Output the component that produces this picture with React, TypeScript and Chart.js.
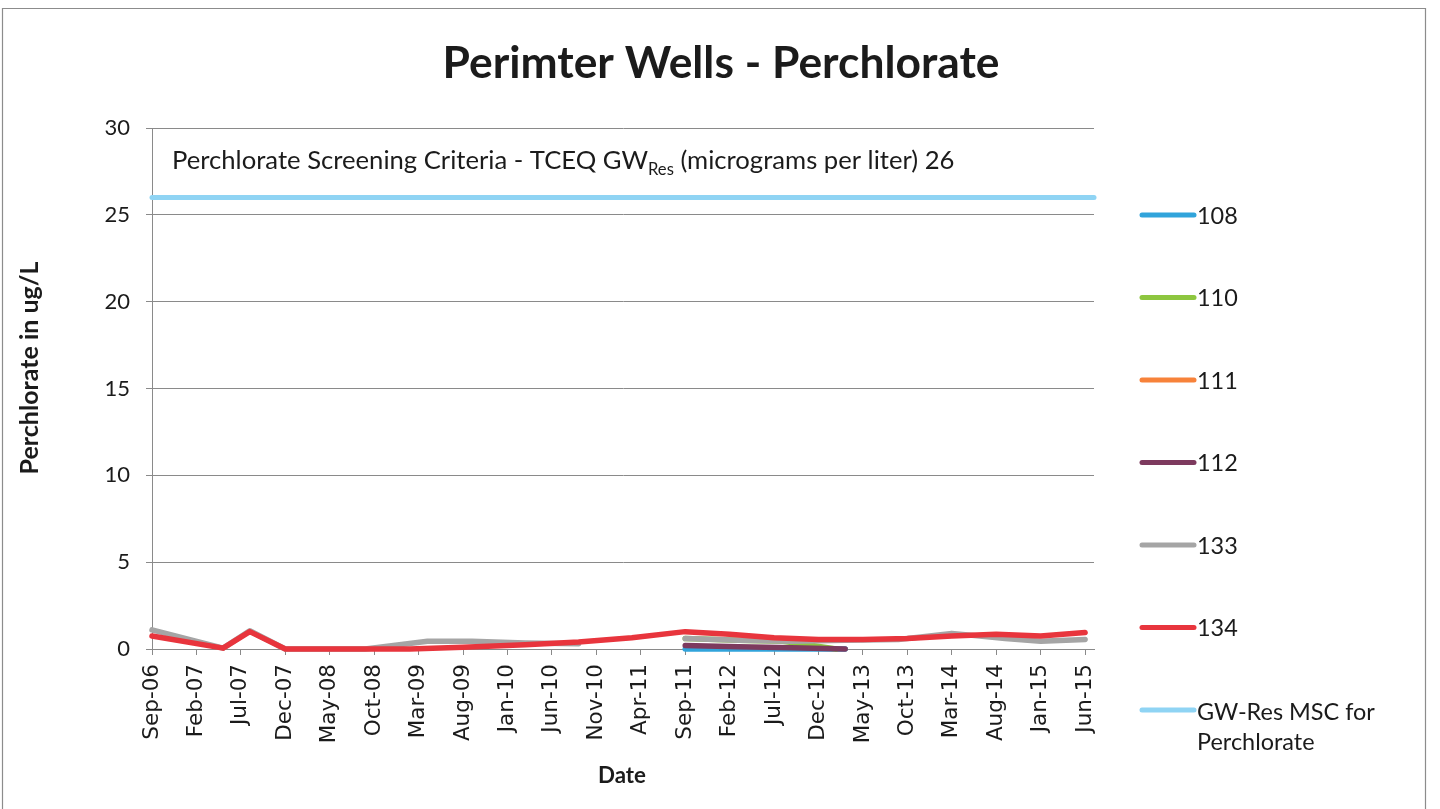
import React, { useEffect, useRef } from "react";
import { Chart, registerables } from "chart.js";

Chart.register(...registerables);

// ---------- text ----------
const CHART_TITLE = "Perimter Wells - Perchlorate";
const Y_TITLE = "Perchlorate in ug/L";
const X_TITLE = "Date";
const NOTE_MAIN = "Perchlorate Screening Criteria - TCEQ GW";
const NOTE_SUB = "Res";
const NOTE_TAIL = " (micrograms per liter) 26";

// ---------- axes ----------
// x values are months counted from Sep-06
const TICK_LABELS = [
  "Sep-06", "Feb-07", "Jul-07", "Dec-07", "May-08", "Oct-08", "Mar-09", "Aug-09",
  "Jan-10", "Jun-10", "Nov-10", "Apr-11", "Sep-11", "Feb-12", "Jul-12", "Dec-12",
  "May-13", "Oct-13", "Mar-14", "Aug-14", "Jan-15", "Jun-15",
];
const X_TICK_STEP = 5;
const X_MIN = 0;
const X_MAX = 106;
const Y_MIN = 0;
const Y_MAX = 30;
const Y_STEP = 5;

// ---------- series ----------
const W108_MONTHS = [60, 66, 72, 78];
const W108_VALUES = [0, 0, 0, 0];

const W110_MONTHS = [60, 66, 71, 77];
const W110_VALUES = [0.6, 0.5, 0.45, 0];

const W111_MONTHS: number[] = [];
const W111_VALUES: number[] = [];

const W112_MONTHS = [60, 66, 72, 78];
const W112_VALUES = [0.2, 0.13, 0.07, 0];

const W133_MONTHS = [0, 8, 11, 15, 24, 31, 36, 42, 48, 54, 60, 66, 72, 78, 84, 90, 96, 100, 105];
const W133_VALUES = [1.1, 0.05, 1.05, 0, 0, 0.45, 0.45, 0.35, 0.3, null, 0.6, 0.5, 0.45, 0.5, 0.55, 0.9, 0.6, 0.45, 0.55];

const W134_MONTHS = [0, 8, 11, 15, 22, 29, 35, 42, 48, 54, 60, 65, 70, 75, 80, 85, 90, 95, 100, 105];
const W134_VALUES = [0.75, 0.05, 1.0, 0, 0, 0, 0.1, 0.25, 0.4, 0.65, 1.0, 0.85, 0.65, 0.55, 0.55, 0.6, 0.75, 0.85, 0.75, 0.95];

const GW_RES_MONTHS = [0, 106];
const GW_RES_VALUES = [26, 26];

const SERIES_LABELS = ["108", "110", "111", "112", "133", "134", "GW-Res MSC for Perchlorate"];
const SERIES_COLORS = ["#31A4DB", "#8DC63F", "#F7823A", "#7D3A5E", "#A5A5A5", "#E8353D", "#8FD4F4"];

// ---------- styling ----------
const GRID = "#8a8a8a";
const INK = "#1b1b1b";
const CAL = "Lato, 'Open Sans', sans-serif";

function makeSet(i: number, months: number[], values: (number | null)[], width: number) {
  return {
    label: SERIES_LABELS[i],
    data: months.map((m, k) => ({ x: m, y: values[k] })),
    borderColor: SERIES_COLORS[i],
    backgroundColor: SERIES_COLORS[i],
    borderWidth: width,
    pointRadius: 0,
    pointHoverRadius: 0,
    borderCapStyle: "round",
    borderJoinStyle: "round",
    tension: 0,
    spanGaps: false,
    clip: false,
    fill: false,
    order: 20 - i,
  };
}

function fitSize(ctx: CanvasRenderingContext2D, text: string, weight: string, family: string, target: number) {
  ctx.font = `${weight} 100px ${family}`;
  const w = ctx.measureText(text).width;
  return (100 * target) / w;
}

const decorPlugin = {
  id: "decor",
  beforeDraw(chart: any) {
    const ctx: CanvasRenderingContext2D = chart.ctx;
    ctx.save();
    ctx.fillStyle = "#ffffff";
    ctx.fillRect(0, 0, chart.width, chart.height);
    ctx.strokeStyle = "#8c8c8c";
    ctx.lineWidth = 1.2;
    ctx.beginPath();
    ctx.moveTo(2.5, chart.height);
    ctx.lineTo(2.5, 8.5);
    ctx.lineTo(1425.5, 8.5);
    ctx.lineTo(1425.5, chart.height);
    ctx.stroke();
    ctx.restore();
  },
  afterDraw(chart: any) {
    const ctx: CanvasRenderingContext2D = chart.ctx;
    ctx.save();
    ctx.fillStyle = INK;
    ctx.textBaseline = "alphabetic";

    // title
    const ts = fitSize(ctx, CHART_TITLE, "bold", CAL, 557);
    ctx.font = `bold ${ts}px ${CAL}`;
    ctx.textAlign = "center";
    ctx.fillText(CHART_TITLE, 721, 78);

    // note with subscript
    ctx.textAlign = "left";
    ctx.font = `100px ${CAL}`;
    const wm = ctx.measureText(NOTE_MAIN).width;
    const wt = ctx.measureText(NOTE_TAIL).width;
    const wsb = ctx.measureText(NOTE_SUB).width * 0.65;
    const ns = (100 * 783) / (wm + wt + wsb);
    let x = 172;
    const base = 169;
    ctx.font = `${ns}px ${CAL}`;
    ctx.fillText(NOTE_MAIN, x, base);
    x += ctx.measureText(NOTE_MAIN).width;
    ctx.font = `${ns * 0.65}px ${CAL}`;
    ctx.fillText(NOTE_SUB, x, base + ns * 0.22);
    x += ctx.measureText(NOTE_SUB).width;
    ctx.font = `${ns}px ${CAL}`;
    ctx.fillText(NOTE_TAIL, x, base);

    // y title
    const ys = fitSize(ctx, Y_TITLE, "bold", CAL, 213);
    ctx.save();
    ctx.translate(38, 368);
    ctx.rotate(-Math.PI / 2);
    ctx.font = `bold ${ys}px ${CAL}`;
    ctx.textAlign = "center";
    ctx.fillText(Y_TITLE, 0, 0);
    ctx.restore();

    // x title
    const xs = fitSize(ctx, X_TITLE, "bold", CAL, 48);
    ctx.font = `bold ${xs}px ${CAL}`;
    ctx.textAlign = "center";
    ctx.fillText(X_TITLE, 622, 783);

    // legend
    const ls = fitSize(ctx, "GW-Res MSC for", "normal", CAL, 178);
    ctx.font = `${ls}px ${CAL}`;
    ctx.textAlign = "left";
    ctx.textBaseline = "middle";
    const ds = chart.data.datasets;
    ds.forEach((d: any, i: number) => {
      const cy = 215 + i * 82.5;
      ctx.strokeStyle = d.borderColor;
      ctx.lineWidth = 5;
      ctx.lineCap = "round";
      ctx.beginPath();
      ctx.moveTo(1142, cy);
      ctx.lineTo(1194, cy);
      ctx.stroke();
      ctx.fillStyle = INK;
      if (i === ds.length - 1) {
        ctx.fillText("GW-Res MSC for", 1197, cy + 2);
        ctx.fillText("Perchlorate", 1197, cy + 32);
      } else {
        ctx.fillText(d.label, 1197, cy + 1);
      }
    });
    ctx.restore();
  },
};

export default function App() {
  const ref = useRef<HTMLCanvasElement | null>(null);

  useEffect(() => {
    document.body.style.margin = "0";
    const canvas = ref.current;
    if (!canvas) return;
    const datasets = [
      makeSet(0, W108_MONTHS, W108_VALUES, 5.5),
      makeSet(1, W110_MONTHS, W110_VALUES, 5.5),
      makeSet(2, W111_MONTHS, W111_VALUES, 5.5),
      makeSet(3, W112_MONTHS, W112_VALUES, 5.5),
      makeSet(4, W133_MONTHS, W133_VALUES, 5.5),
      makeSet(5, W134_MONTHS, W134_VALUES, 5.5),
      makeSet(6, GW_RES_MONTHS, GW_RES_VALUES, 5),
    ];
    const chart = new Chart(canvas, {
      type: "line",
      data: { datasets } as any,
      options: {
        responsive: false,
        animation: false,
        events: [],
        layout: { padding: { top: 128, right: 346, left: 0, bottom: 0 } },
        plugins: {
          legend: { display: false },
          title: { display: false },
          tooltip: { enabled: false },
        },
        scales: {
          x: {
            type: "linear",
            min: X_MIN,
            max: X_MAX,
            afterFit(s: any) {
              s.height = 160;
            },
            border: { display: true, color: GRID, width: 1 },
            grid: { drawOnChartArea: false, drawTicks: true, tickLength: 6, color: GRID },
            ticks: {
              stepSize: X_TICK_STEP,
              includeBounds: false,
              autoSkip: false,
              maxRotation: 90,
              minRotation: 90,
              padding: 9,
              color: INK,
              font: { family: "'DejaVu Sans', sans-serif", size: 21.5 },
              callback: (v: any) => TICK_LABELS[Math.round(Number(v) / X_TICK_STEP)] ?? "",
            },
          },
          y: {
            min: Y_MIN,
            max: Y_MAX,
            afterFit(s: any) {
              s.width = 152;
            },
            border: { display: true, color: GRID, width: 1 },
            grid: { color: GRID, lineWidth: 1, tickLength: 6 },
            ticks: {
              stepSize: Y_STEP,
              padding: 16,
              color: INK,
              font: { family: CAL, size: 22 },
            },
          },
        },
      } as any,
      plugins: [decorPlugin],
    });
    return () => chart.destroy();
  }, []);

  return (
    <div style={{ width: 1440, height: 809, position: "relative", overflow: "hidden" }}>
      <canvas ref={ref} width={1440} height={809} style={{ display: "block" }} />
    </div>
  );
}
